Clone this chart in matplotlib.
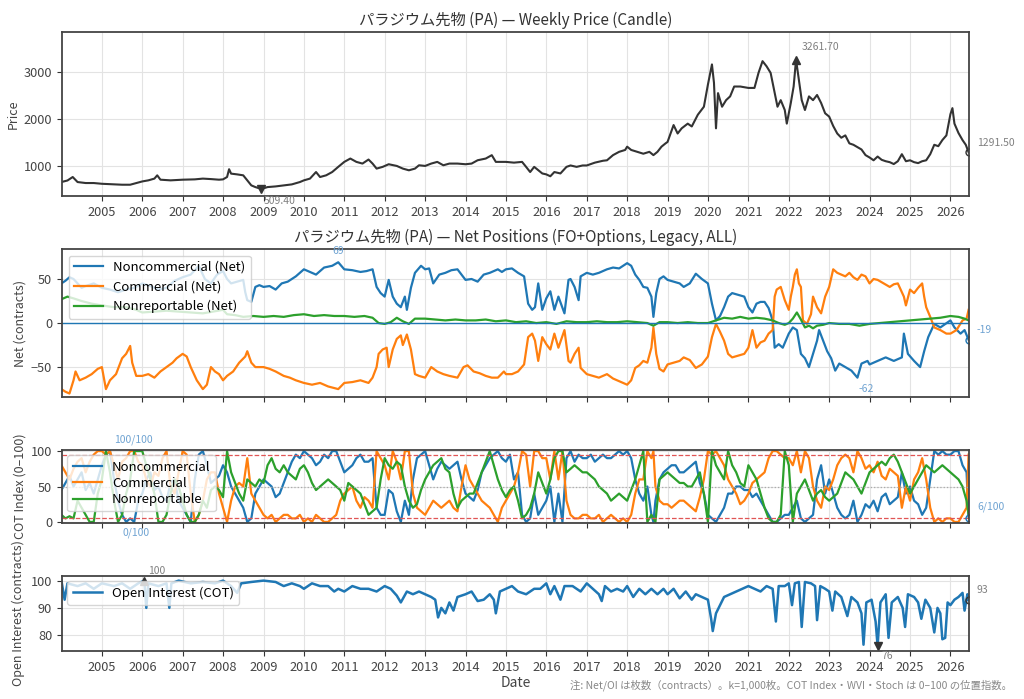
import matplotlib
matplotlib.use("Agg")
import matplotlib.pyplot as plt
import matplotlib.dates as mdates
import numpy as np
import pandas as pd

plt.rcParams['font.family'] = ['Noto Sans CJK JP', 'DejaVu Sans']

# ---------------- DATA (decimal year, value) ----------------
PRICE = [(2004.00,657),(2004.15,690),(2004.28,764),(2004.40,657),(2004.60,636),(2004.80,636),(2005.00,620),
 (2005.30,607),(2005.50,600),(2005.70,600),(2005.85,636),(2006.00,670),(2006.15,693),(2006.30,730),(2006.37,800),
 (2006.45,707),(2006.70,693),(2007.00,707),(2007.30,714),(2007.50,730),(2007.70,720),(2007.90,707),(2008.00,714),
 (2008.10,764),(2008.15,930),(2008.20,836),(2008.35,820),(2008.50,800),(2008.60,693),(2008.70,586),(2008.80,550),
 (2008.95,509.4),(2009.10,550),(2009.30,564),(2009.50,586),(2009.70,607),(2009.90,657),(2010.00,693),(2010.15,730),
 (2010.30,870),(2010.40,764),(2010.55,800),(2010.70,870),(2010.85,980),(2011.00,1086),(2011.15,1157),(2011.30,1086),
 (2011.45,1050),(2011.60,1136),(2011.70,1050),(2011.80,943),(2011.95,980),(2012.10,1036),(2012.30,1000),(2012.45,943),
 (2012.60,907),(2012.75,943),(2012.85,1014),(2013.00,1000),(2013.15,1050),(2013.30,1086),(2013.45,1014),(2013.60,1050),
 (2013.80,1050),(2014.00,1036),(2014.15,1050),(2014.30,1121),(2014.50,1157),(2014.65,1229),(2014.75,1086),(2014.90,1086),
 (2015.00,1086),(2015.20,1070),(2015.40,1086),(2015.50,980),(2015.60,870),(2015.70,980),(2015.80,910),(2015.90,840),
 (2016.00,820),(2016.10,780),(2016.20,870),(2016.35,840),(2016.50,980),(2016.60,1010),(2016.75,980),(2016.90,1010),
 (2017.00,1010),(2017.20,1070),(2017.40,1110),(2017.50,1120),(2017.65,1230),(2017.80,1300),(2017.95,1340),(2018.00,1410),
 (2018.10,1340),(2018.25,1300),(2018.40,1260),(2018.55,1300),(2018.65,1230),(2018.75,1300),(2018.85,1410),(2018.95,1480),
 (2019.00,1510),(2019.15,1870),(2019.25,1690),(2019.35,1800),(2019.50,1900),(2019.60,1840),(2019.75,2090),(2019.90,2260),
 (2020.00,2730),(2020.10,3160),(2020.15,2770),(2020.20,1800),(2020.25,2550),(2020.35,2260),(2020.45,2400),(2020.55,2480),
 (2020.65,2690),(2020.80,2690),(2021.00,2660),(2021.15,2660),(2021.25,2980),(2021.35,3230),(2021.45,3120),(2021.55,2980),
 (2021.65,2550),(2021.72,2260),(2021.80,2400),(2021.90,2190),(2021.95,1900),(2022.05,2340),(2022.12,2690),(2022.18,3261.7),
 (2022.25,2830),(2022.32,2400),(2022.40,2190),(2022.50,2480),(2022.60,2400),(2022.70,2510),(2022.80,2340),(2022.90,2120),
 (2023.00,2050),(2023.10,1850),(2023.20,1690),(2023.30,1600),(2023.40,1650),(2023.50,1480),(2023.60,1450),(2023.70,1400),
 (2023.80,1350),(2023.90,1230),(2024.00,1180),(2024.10,1120),(2024.20,1200),(2024.30,1130),(2024.40,1100),(2024.50,1080),
 (2024.60,1040),(2024.70,1100),(2024.80,1250),(2024.90,1100),(2025.00,1120),(2025.10,1080),(2025.20,1060),(2025.30,1100),
 (2025.40,1120),(2025.50,1250),(2025.60,1450),(2025.70,1420),(2025.80,1550),(2025.90,1650),(2026.00,2100),(2026.05,2230),
 (2026.10,1900),(2026.20,1700),(2026.30,1550),(2026.38,1450),(2026.45,1291.5)]

NET_NONCOMM = [(2004.0,45),(2004.1,48),(2004.2,52),(2004.3,50),(2004.4,45),(2004.5,40),(2004.6,42),(2004.8,45),(2005.0,40),
 (2005.2,38),(2005.4,35),(2005.6,38),(2005.8,40),(2006.0,45),(2006.2,42),(2006.4,38),(2006.6,40),(2006.8,48),(2007.0,52),
 (2007.2,55),(2007.4,65),(2007.55,50),(2007.7,45),(2007.85,55),(2008.0,59),(2008.1,50),(2008.2,45),(2008.35,47),(2008.5,49),
 (2008.55,35),(2008.6,26),(2008.7,24),(2008.8,41),(2008.9,43),(2009.0,41),(2009.15,42),(2009.3,38),(2009.45,45),(2009.6,47),
 (2009.8,53),(2010.0,61),(2010.15,58),(2010.3,55),(2010.5,63),(2010.7,65),(2010.85,69),(2011.0,61),(2011.2,60),(2011.4,58),
 (2011.55,59),(2011.7,61),(2011.8,41),(2011.9,34),(2012.0,30),(2012.1,49),(2012.2,30),(2012.3,22),(2012.4,18),(2012.5,30),
 (2012.55,15),(2012.65,40),(2012.75,57),(2012.9,65),(2013.0,61),(2013.1,62),(2013.2,45),(2013.35,55),(2013.5,57),(2013.65,60),
 (2013.8,61),(2013.9,55),(2014.0,49),(2014.15,50),(2014.3,47),(2014.45,55),(2014.6,57),(2014.8,61),(2014.9,58),(2015.0,61),
 (2015.15,62),(2015.3,57),(2015.45,53),(2015.55,22),(2015.65,15),(2015.72,18),(2015.8,45),(2015.9,15),(2016.0,28),(2016.1,36),
 (2016.2,15),(2016.3,30),(2016.45,11),(2016.55,49),(2016.6,50),(2016.7,41),(2016.8,26),(2016.85,53),(2017.0,57),(2017.15,55),
 (2017.3,57),(2017.5,61),(2017.65,63),(2017.8,62),(2017.9,65),(2018.0,68),(2018.1,65),(2018.2,55),(2018.3,49),(2018.4,41),
 (2018.5,40),(2018.6,30),(2018.65,7),(2018.72,34),(2018.8,50),(2018.9,53),(2019.0,49),(2019.15,47),(2019.3,45),(2019.4,41),
 (2019.55,45),(2019.7,56),(2019.85,50),(2020.0,45),(2020.1,22),(2020.2,3),(2020.3,8),(2020.4,18),(2020.5,30),(2020.6,34),
 (2020.75,32),(2020.9,30),(2021.0,18),(2021.1,12),(2021.2,22),(2021.3,24),(2021.4,24),(2021.5,17),(2021.6,3),(2021.65,-28),
 (2021.75,-24),(2021.85,-28),(2022.0,-12),(2022.1,-5),(2022.2,-8),(2022.3,-35),(2022.4,-40),(2022.5,-50),(2022.6,-35),
 (2022.7,-20),(2022.75,-8),(2022.85,-20),(2022.95,-32),(2023.05,-40),(2023.15,-54),(2023.25,-46),(2023.4,-50),(2023.55,-54),
 (2023.7,-62),(2023.8,-46),(2023.95,-43),(2024.0,-47),(2024.2,-43),(2024.4,-39),(2024.6,-43),(2024.8,-39),(2024.85,-12),
 (2024.95,-35),(2025.1,-43),(2025.25,-50),(2025.35,-32),(2025.45,-16),(2025.6,-1),(2025.75,-5),(2026.0,3),(2026.1,-5),
 (2026.25,-12),(2026.35,-8),(2026.45,-19)]

NET_COMM = [(2004.0,-75),(2004.1,-78),(2004.2,-80),(2004.3,-65),(2004.35,-55),(2004.45,-65),(2004.6,-62),(2004.75,-58),
 (2004.9,-52),(2005.0,-50),(2005.1,-75),(2005.2,-65),(2005.35,-58),(2005.5,-40),(2005.6,-35),(2005.7,-26),(2005.75,-45),
 (2005.85,-60),(2006.0,-60),(2006.15,-58),(2006.3,-62),(2006.45,-55),(2006.6,-50),(2006.75,-45),(2006.85,-40),(2007.0,-35),
 (2007.1,-38),(2007.2,-50),(2007.35,-65),(2007.5,-75),(2007.6,-70),(2007.7,-50),(2007.8,-55),(2007.9,-58),(2008.0,-65),
 (2008.1,-60),(2008.25,-55),(2008.4,-45),(2008.55,-38),(2008.6,-32),(2008.7,-45),(2008.8,-50),(2009.0,-50),(2009.15,-52),
 (2009.3,-55),(2009.5,-60),(2009.65,-62),(2009.8,-65),(2010.0,-68),(2010.2,-70),(2010.4,-68),(2010.6,-72),(2010.85,-75),
 (2011.0,-68),(2011.2,-67),(2011.4,-65),(2011.6,-68),(2011.7,-62),(2011.8,-50),(2011.85,-35),(2011.95,-30),(2012.05,-28),
 (2012.1,-50),(2012.2,-30),(2012.3,-18),(2012.4,-14),(2012.45,-25),(2012.55,-13),(2012.65,-30),(2012.75,-58),(2012.85,-60),
 (2013.0,-62),(2013.15,-50),(2013.3,-55),(2013.45,-58),(2013.6,-60),(2013.8,-62),(2013.95,-50),(2014.05,-48),(2014.2,-55),
 (2014.35,-57),(2014.5,-60),(2014.65,-62),(2014.8,-62),(2014.95,-55),(2015.0,-58),(2015.15,-58),(2015.3,-55),(2015.45,-47),
 (2015.55,-16),(2015.65,-12),(2015.72,-20),(2015.8,-43),(2015.9,-16),(2016.0,-24),(2016.1,-30),(2016.2,-12),(2016.3,-28),
 (2016.45,-8),(2016.55,-43),(2016.6,-45),(2016.7,-35),(2016.8,-28),(2016.85,-51),(2017.0,-58),(2017.15,-60),(2017.3,-62),
 (2017.5,-58),(2017.65,-63),(2017.8,-66),(2017.9,-68),(2018.0,-70),(2018.1,-65),(2018.2,-51),(2018.3,-48),(2018.4,-43),
 (2018.5,-45),(2018.6,-28),(2018.65,-5),(2018.72,-35),(2018.8,-52),(2018.9,-55),(2019.0,-47),(2019.15,-45),(2019.3,-43),
 (2019.4,-39),(2019.55,-42),(2019.7,-51),(2019.85,-47),(2020.0,-38),(2020.1,-16),(2020.2,-1),(2020.3,-10),(2020.4,-20),
 (2020.5,-35),(2020.6,-39),(2020.75,-37),(2020.9,-35),(2021.0,-28),(2021.1,-8),(2021.2,-28),(2021.3,-22),(2021.4,-20),
 (2021.5,-12),(2021.6,-8),(2021.65,30),(2021.7,38),(2021.8,41),(2021.9,26),(2022.0,15),(2022.05,30),(2022.1,41),(2022.15,55),
 (2022.2,61),(2022.25,45),(2022.3,41),(2022.35,3),(2022.45,-1),(2022.55,10),(2022.6,30),(2022.7,18),(2022.8,11),(2022.9,30),
 (2023.0,41),(2023.1,61),(2023.2,57),(2023.3,55),(2023.4,53),(2023.5,57),(2023.6,52),(2023.7,49),(2023.8,55),(2023.9,53),
 (2024.0,45),(2024.1,50),(2024.2,49),(2024.35,45),(2024.5,41),(2024.6,44),(2024.7,45),(2024.85,30),(2024.9,20),(2025.0,38),
 (2025.1,34),(2025.2,40),(2025.3,45),(2025.35,30),(2025.4,18),(2025.5,7),(2025.6,-5),(2025.75,-8),(2025.9,-12),(2026.0,-12),
 (2026.15,-8),(2026.3,3),(2026.4,5),(2026.45,15)]

NET_NONREP = [(2004.0,27),(2004.15,30),(2004.3,28),(2004.5,25),(2004.75,22),(2005.0,20),(2005.3,18),(2005.6,18),(2005.85,15),
 (2006.0,12),(2006.3,13),(2006.6,14),(2006.9,13),(2007.2,12),(2007.5,11),(2007.75,13),(2008.0,15),(2008.1,10),(2008.3,9),
 (2008.5,7),(2008.75,8),(2009.0,7),(2009.25,8),(2009.5,7),(2009.75,9),(2010.0,10),(2010.25,8),(2010.5,9),(2010.75,8),
 (2011.0,8),(2011.25,7),(2011.5,8),(2011.7,6),(2011.85,0),(2012.0,-1),(2012.15,1),(2012.3,6),(2012.45,2),(2012.6,-1),
 (2012.75,5),(2013.0,5),(2013.25,4),(2013.5,3),(2013.75,4),(2014.0,3),(2014.25,3),(2014.5,4),(2014.75,2),(2015.0,3),
 (2015.25,1),(2015.5,2),(2015.75,0),(2016.0,1),(2016.25,-1),(2016.5,2),(2016.75,1),(2017.0,1),(2017.25,2),(2017.5,1),
 (2017.75,1),(2018.0,2),(2018.25,1),(2018.5,0),(2018.65,-3),(2018.8,1),(2019.0,1),(2019.25,0),(2019.5,1),(2019.75,0),
 (2020.0,0),(2020.2,3),(2020.4,6),(2020.6,5),(2020.8,7),(2021.0,5),(2021.2,6),(2021.4,5),(2021.6,3),(2021.75,0),(2021.9,-2),
 (2022.0,0),(2022.1,5),(2022.2,12),(2022.3,4),(2022.4,-5),(2022.5,-3),(2022.6,-6),(2022.7,-3),(2022.85,-2),(2023.0,0),
 (2023.25,-1),(2023.5,-1),(2023.75,-3),(2024.0,-1),(2024.25,0),(2024.5,1),(2024.75,2),(2025.0,3),(2025.25,4),(2025.5,5),
 (2025.75,6),(2026.0,8),(2026.2,7),(2026.35,5),(2026.45,3)]

COT_NONCOMM = [(2004.0,45),(2004.1,55),(2004.2,65),(2004.3,50),(2004.4,60),(2004.5,70),(2004.6,45),(2004.7,55),(2004.8,40),
 (2004.9,60),(2005.0,80),(2005.1,95),(2005.2,100),(2005.3,60),(2005.4,30),(2005.5,10),(2005.6,0),(2005.7,5),(2005.8,0),
 (2005.9,30),(2006.0,40),(2006.1,60),(2006.2,70),(2006.3,45),(2006.4,50),(2006.5,35),(2006.6,30),(2006.7,55),(2006.8,60),
 (2006.9,30),(2007.0,20),(2007.1,10),(2007.2,0),(2007.3,60),(2007.4,95),(2007.5,100),(2007.6,80),(2007.7,55),(2007.8,60),
 (2007.9,65),(2008.0,80),(2008.1,70),(2008.2,50),(2008.3,40),(2008.4,30),(2008.5,20),(2008.6,0),(2008.7,5),(2008.8,40),
 (2008.9,50),(2009.0,60),(2009.1,55),(2009.2,50),(2009.3,35),(2009.4,40),(2009.5,55),(2009.6,70),(2009.7,85),(2009.8,95),
 (2009.9,90),(2010.0,100),(2010.1,95),(2010.2,90),(2010.3,80),(2010.4,85),(2010.5,95),(2010.6,90),(2010.7,100),(2010.8,100),
 (2010.9,85),(2011.0,70),(2011.1,75),(2011.2,80),(2011.3,90),(2011.4,95),(2011.5,85),(2011.6,85),(2011.7,90),(2011.8,20),
 (2011.9,10),(2012.0,10),(2012.1,45),(2012.2,40),(2012.3,15),(2012.4,0),(2012.5,30),(2012.6,10),(2012.7,60),(2012.8,90),
 (2012.9,95),(2013.0,100),(2013.1,80),(2013.2,60),(2013.3,75),(2013.4,85),(2013.5,80),(2013.6,75),(2013.7,80),(2013.8,85),
 (2013.9,60),(2014.0,40),(2014.1,35),(2014.2,30),(2014.3,45),(2014.4,70),(2014.5,80),(2014.6,90),(2014.7,95),(2014.8,100),
 (2014.9,90),(2015.0,85),(2015.1,95),(2015.2,60),(2015.3,70),(2015.4,10),(2015.5,0),(2015.6,5),(2015.7,40),(2015.8,10),
 (2015.9,20),(2016.0,30),(2016.1,50),(2016.2,0),(2016.3,40),(2016.4,0),(2016.5,90),(2016.6,100),(2016.7,85),(2016.8,95),
 (2016.9,90),(2017.0,90),(2017.1,95),(2017.2,85),(2017.3,90),(2017.4,95),(2017.5,90),(2017.6,90),(2017.7,95),(2017.8,100),
 (2017.9,95),(2018.0,100),(2018.1,90),(2018.2,60),(2018.3,40),(2018.4,30),(2018.5,50),(2018.6,10),(2018.65,0),(2018.7,30),
 (2018.8,60),(2018.9,70),(2019.0,75),(2019.1,80),(2019.2,80),(2019.3,70),(2019.4,70),(2019.5,75),(2019.6,80),(2019.7,85),
 (2019.8,55),(2019.9,40),(2020.0,10),(2020.1,5),(2020.2,0),(2020.3,10),(2020.4,20),(2020.5,40),(2020.6,40),(2020.7,50),
 (2020.8,50),(2020.9,45),(2021.0,45),(2021.1,35),(2021.2,40),(2021.3,30),(2021.4,20),(2021.5,10),(2021.6,0),(2021.7,0),
 (2021.8,5),(2021.9,10),(2022.0,10),(2022.1,20),(2022.2,30),(2022.3,5),(2022.4,0),(2022.5,5),(2022.6,10),(2022.7,60),
 (2022.8,80),(2022.9,40),(2023.0,60),(2023.1,40),(2023.2,20),(2023.3,10),(2023.4,5),(2023.5,10),(2023.6,30),(2023.7,0),
 (2023.8,10),(2023.9,25),(2024.0,20),(2024.1,30),(2024.2,15),(2024.3,35),(2024.4,40),(2024.5,25),(2024.6,30),(2024.7,35),
 (2024.8,70),(2024.9,40),(2025.0,50),(2025.1,30),(2025.2,25),(2025.3,10),(2025.4,20),(2025.5,60),(2025.6,100),(2025.7,95),
 (2025.8,100),(2025.9,95),(2026.0,95),(2026.1,100),(2026.2,100),(2026.3,80),(2026.4,70),(2026.45,6)]

COT_COMM = [(2004.0,80),(2004.1,70),(2004.2,60),(2004.3,75),(2004.4,85),(2004.5,90),(2004.6,70),(2004.7,85),(2004.8,95),
 (2004.9,100),(2005.0,100),(2005.1,95),(2005.2,100),(2005.3,80),(2005.4,60),(2005.5,85),(2005.6,90),(2005.7,100),(2005.8,100),
 (2005.9,85),(2006.0,80),(2006.1,60),(2006.2,50),(2006.3,70),(2006.4,65),(2006.5,90),(2006.6,100),(2006.7,50),(2006.8,40),
 (2006.9,70),(2007.0,100),(2007.1,95),(2007.2,40),(2007.3,0),(2007.4,10),(2007.5,30),(2007.6,60),(2007.7,70),(2007.8,70),
 (2007.9,40),(2008.0,20),(2008.1,0),(2008.2,30),(2008.3,50),(2008.4,55),(2008.5,50),(2008.6,90),(2008.7,40),(2008.8,30),
 (2008.9,20),(2009.0,10),(2009.1,5),(2009.2,10),(2009.3,0),(2009.4,5),(2009.5,10),(2009.6,10),(2009.7,5),(2009.8,5),
 (2009.9,10),(2010.0,0),(2010.1,5),(2010.2,0),(2010.3,10),(2010.4,5),(2010.5,0),(2010.6,0),(2010.7,5),(2010.8,10),
 (2010.9,30),(2011.0,40),(2011.1,45),(2011.2,50),(2011.3,30),(2011.4,20),(2011.5,35),(2011.6,30),(2011.7,20),(2011.8,100),
 (2011.9,90),(2012.0,80),(2012.1,60),(2012.2,100),(2012.3,85),(2012.4,60),(2012.5,100),(2012.6,100),(2012.7,40),(2012.8,20),
 (2012.9,15),(2013.0,10),(2013.1,20),(2013.2,30),(2013.3,25),(2013.4,20),(2013.5,25),(2013.6,30),(2013.7,20),(2013.8,15),
 (2013.9,50),(2014.0,80),(2014.1,60),(2014.2,50),(2014.3,40),(2014.4,30),(2014.5,25),(2014.6,20),(2014.7,10),(2014.8,0),
 (2014.9,20),(2015.0,30),(2015.1,40),(2015.2,50),(2015.3,70),(2015.4,100),(2015.5,95),(2015.6,50),(2015.7,100),(2015.8,100),
 (2015.9,90),(2016.0,90),(2016.1,60),(2016.2,100),(2016.3,60),(2016.4,100),(2016.5,30),(2016.6,10),(2016.7,5),(2016.8,5),
 (2016.9,10),(2017.0,10),(2017.1,5),(2017.2,5),(2017.3,10),(2017.4,0),(2017.5,5),(2017.6,10),(2017.7,5),(2017.8,0),
 (2017.9,5),(2018.0,0),(2018.1,10),(2018.2,40),(2018.3,60),(2018.4,60),(2018.5,100),(2018.6,90),(2018.65,100),(2018.7,50),
 (2018.8,30),(2018.9,25),(2019.0,25),(2019.1,20),(2019.2,25),(2019.3,30),(2019.4,30),(2019.5,25),(2019.6,20),(2019.7,15),
 (2019.8,35),(2019.9,60),(2020.0,100),(2020.1,95),(2020.2,100),(2020.3,90),(2020.4,80),(2020.5,60),(2020.6,50),(2020.7,40),
 (2020.8,25),(2020.9,30),(2021.0,40),(2021.1,55),(2021.2,60),(2021.3,65),(2021.4,70),(2021.5,90),(2021.6,100),(2021.7,100),
 (2021.8,95),(2021.9,90),(2022.0,90),(2022.1,80),(2022.2,100),(2022.3,70),(2022.4,100),(2022.5,90),(2022.6,50),(2022.7,30),
 (2022.8,20),(2022.9,50),(2023.0,45),(2023.1,60),(2023.2,80),(2023.3,90),(2023.4,95),(2023.5,90),(2023.6,70),(2023.7,100),
 (2023.8,90),(2023.9,75),(2024.0,80),(2024.1,70),(2024.2,85),(2024.3,65),(2024.4,60),(2024.5,75),(2024.6,70),(2024.7,65),
 (2024.8,20),(2024.9,50),(2025.0,30),(2025.1,60),(2025.2,70),(2025.3,90),(2025.4,60),(2025.5,20),(2025.6,0),(2025.7,5),
 (2025.8,0),(2025.9,5),(2026.0,5),(2026.1,0),(2026.2,0),(2026.3,10),(2026.4,20),(2026.45,95)]

COT_NONREP = [(2004.0,10),(2004.1,5),(2004.2,8),(2004.3,5),(2004.4,30),(2004.5,20),(2004.6,10),(2004.7,0),(2004.8,0),
 (2004.9,40),(2005.0,60),(2005.1,100),(2005.2,70),(2005.3,30),(2005.4,0),(2005.5,10),(2005.6,40),(2005.7,60),(2005.8,100),
 (2005.9,100),(2006.0,100),(2006.1,80),(2006.2,60),(2006.3,40),(2006.4,0),(2006.5,0),(2006.6,10),(2006.7,40),(2006.8,60),
 (2006.9,50),(2007.0,30),(2007.1,10),(2007.2,0),(2007.3,0),(2007.4,10),(2007.5,30),(2007.6,20),(2007.7,45),(2007.8,50),
 (2007.9,45),(2008.0,35),(2008.1,100),(2008.2,70),(2008.3,55),(2008.4,40),(2008.5,30),(2008.6,60),(2008.7,55),(2008.8,50),
 (2008.9,60),(2009.0,55),(2009.1,80),(2009.2,90),(2009.3,75),(2009.4,70),(2009.5,80),(2009.6,70),(2009.7,65),(2009.8,60),
 (2009.9,75),(2010.0,80),(2010.1,70),(2010.2,55),(2010.3,45),(2010.4,50),(2010.5,55),(2010.6,60),(2010.7,55),(2010.8,50),
 (2010.9,45),(2011.0,30),(2011.1,55),(2011.2,50),(2011.3,45),(2011.4,40),(2011.5,25),(2011.6,10),(2011.7,15),(2011.8,20),
 (2011.9,60),(2012.0,90),(2012.1,80),(2012.2,75),(2012.3,85),(2012.4,80),(2012.5,50),(2012.6,30),(2012.7,20),(2012.8,25),
 (2012.9,45),(2013.0,60),(2013.1,70),(2013.2,80),(2013.3,85),(2013.4,90),(2013.5,75),(2013.6,70),(2013.7,40),(2013.8,20),
 (2013.9,30),(2014.0,35),(2014.1,40),(2014.2,40),(2014.3,55),(2014.4,70),(2014.5,85),(2014.6,100),(2014.7,80),(2014.8,60),
 (2014.9,45),(2015.0,35),(2015.1,45),(2015.2,50),(2015.3,30),(2015.4,5),(2015.5,10),(2015.6,20),(2015.7,40),(2015.8,70),
 (2015.9,55),(2016.0,40),(2016.1,60),(2016.2,90),(2016.3,100),(2016.4,100),(2016.5,70),(2016.6,75),(2016.7,80),(2016.8,75),
 (2016.9,70),(2017.0,70),(2017.1,65),(2017.2,60),(2017.3,50),(2017.4,45),(2017.5,40),(2017.6,30),(2017.7,35),(2017.8,40),
 (2017.9,35),(2018.0,30),(2018.1,45),(2018.2,60),(2018.3,80),(2018.4,100),(2018.5,0),(2018.6,10),(2018.7,0),(2018.8,60),
 (2018.9,65),(2019.0,70),(2019.1,65),(2019.2,60),(2019.3,55),(2019.4,55),(2019.5,50),(2019.6,50),(2019.7,60),(2019.8,70),
 (2019.9,40),(2020.0,0),(2020.1,100),(2020.2,80),(2020.3,70),(2020.4,60),(2020.5,100),(2020.6,80),(2020.7,70),(2020.8,55),
 (2020.9,50),(2021.0,80),(2021.1,70),(2021.2,60),(2021.3,40),(2021.4,20),(2021.5,5),(2021.6,0),(2021.7,0),(2021.8,10),
 (2021.9,100),(2022.0,80),(2022.1,0),(2022.2,40),(2022.3,50),(2022.4,60),(2022.5,45),(2022.6,30),(2022.7,40),(2022.8,45),
 (2022.9,35),(2023.0,30),(2023.1,35),(2023.2,40),(2023.3,55),(2023.4,70),(2023.5,65),(2023.6,60),(2023.7,50),(2023.8,40),
 (2023.9,55),(2024.0,70),(2024.1,75),(2024.2,80),(2024.3,85),(2024.4,80),(2024.5,90),(2024.6,95),(2024.7,85),(2024.8,70),
 (2024.9,55),(2025.0,40),(2025.1,50),(2025.2,60),(2025.3,70),(2025.4,80),(2025.5,75),(2025.6,70),(2025.7,75),(2025.8,80),
 (2025.9,75),(2026.0,70),(2026.1,65),(2026.2,60),(2026.3,50),(2026.4,30),(2026.45,10)]

OPEN_INTEREST = [(2004.0,100),(2004.08,93),(2004.15,99),(2004.4,98),(2004.6,99),(2004.8,97),(2005.0,99),(2005.3,98),
 (2005.5,99),(2005.7,97),(2005.9,99),(2006.05,100),(2006.1,90),(2006.15,99),(2006.4,98),(2006.6,99),(2006.67,90),(2006.72,99),
 (2006.9,100),(2007.2,99),(2007.5,99.5),(2007.8,99),(2008.0,100),(2008.2,98),(2008.35,95.5),(2008.45,99),(2008.7,99.5),
 (2009.0,100),(2009.3,99.5),(2009.5,98),(2009.7,99),(2009.9,98),(2010.0,97),(2010.2,99),(2010.4,98),(2010.6,98),(2010.75,96),
 (2010.85,97),(2011.0,96),(2011.2,98),(2011.4,97),(2011.6,97),(2011.8,96),(2012.0,98),(2012.15,97),(2012.3,94.5),(2012.4,92),
 (2012.55,96),(2012.7,95),(2012.85,96),(2013.0,95),(2013.15,94),(2013.25,93),(2013.32,86.5),(2013.4,90),(2013.5,88),
 (2013.6,92),(2013.7,89),(2013.8,94),(2014.0,95),(2014.15,96),(2014.3,92.5),(2014.45,93),(2014.6,95),(2014.7,93),(2014.75,88),
 (2014.85,96),(2015.0,97),(2015.15,98),(2015.3,96),(2015.5,95),(2015.7,97),(2015.85,97),(2016.0,99),(2016.1,95),(2016.2,98),
 (2016.35,93),(2016.45,98),(2016.65,98),(2016.85,96),(2017.0,99),(2017.15,97),(2017.3,95),(2017.37,92.5),(2017.45,98),
 (2017.6,96),(2017.75,97),(2017.9,96),(2018.0,98),(2018.15,94),(2018.3,97),(2018.45,95),(2018.6,97),(2018.75,95),(2018.9,97),
 (2019.0,95),(2019.15,97),(2019.3,93.5),(2019.45,96),(2019.6,93),(2019.7,95),(2019.85,94),(2020.0,93),(2020.08,86),
 (2020.12,81.5),(2020.2,88),(2020.3,91),(2020.4,94),(2020.55,95),(2020.7,96),(2020.85,97),(2021.0,98),(2021.15,97),(2021.3,96),
 (2021.45,98),(2021.6,97),(2021.68,85),(2021.75,98),(2021.9,98),(2022.0,99),(2022.08,91),(2022.15,99),(2022.25,99.5),
 (2022.32,83),(2022.4,99.5),(2022.55,99),(2022.65,98),(2022.7,85.5),(2022.78,98),(2022.9,97),(2023.0,96),(2023.08,89),
 (2023.15,96),(2023.3,94),(2023.45,87),(2023.55,94),(2023.7,92),(2023.8,88),(2023.85,76.5),(2023.92,92),(2024.05,93),
 (2024.15,85),(2024.2,76),(2024.27,92),(2024.4,95),(2024.47,79),(2024.55,92),(2024.7,94),(2024.82,90),(2024.88,83),
 (2024.95,95),(2025.1,94),(2025.2,92),(2025.28,86),(2025.38,93),(2025.5,90),(2025.6,81),(2025.68,90),(2025.75,88),
 (2025.8,78.5),(2025.87,79),(2025.93,92),(2026.0,91),(2026.1,93),(2026.2,94),(2026.3,95.5),(2026.35,89),(2026.42,95),
 (2026.45,93)]

TITLE_PRICE = "パラジウム先物 (PA) — Weekly Price (Candle)"
TITLE_NET = "パラジウム先物 (PA) — Net Positions (FO+Options, Legacy, ALL)"
NOTE = "注: Net/OI は枚数（contracts）。k=1,000枚。COT Index・WVI・Stoch は 0–100 の位置指数。"
NET_LABELS = ["Noncommercial (Net)", "Commercial (Net)", "Nonreportable (Net)"]
COT_LABELS = ["Noncommercial", "Commercial", "Nonreportable"]
OI_LABEL = "Open Interest (COT)"
OI_MAX_MARK_YEAR = 2006.05


def to_dates(series):
    yrs = np.array([p[0] for p in series], dtype=float)
    vals = np.array([p[1] for p in series], dtype=float)
    base = pd.to_datetime([f"{int(y)}-01-01" for y in yrs])
    dates = base + pd.to_timedelta((yrs - np.floor(yrs)) * 365.25, unit="D")
    return yrs, dates, vals


C0, C1, C2 = "#1f77b4", "#ff7f0e", "#2ca02c"
LBLUE = "#6fa3d2"
GRAYTXT = "#808080"
DARK = "#333333"
LABFS = 9

fig = plt.figure(figsize=(10.24, 6.99), dpi=100)
L, W = 0.0605, 0.886
ax1 = fig.add_axes([L, 0.7196, W, 0.2346])
ax2 = fig.add_axes([L, 0.432, W, 0.2117], sharex=ax1)
ax3 = fig.add_axes([L, 0.2518, W, 0.1044], sharex=ax1)
ax4 = fig.add_axes([L, 0.0687, W, 0.1073], sharex=ax1)

for ax in (ax1, ax2, ax3, ax4):
    ax.grid(True, color="#e3e3e3", lw=0.8)
    ax.set_axisbelow(True)
    for s in ax.spines.values():
        s.set_color("#444444")
        s.set_linewidth(1.3)
    ax.tick_params(labelsize=9.2, colors="#333333", labelcolor="#444444", length=3.5)

# ---- Price ----
_, pd_, pv = to_dates(PRICE)
ax1.plot(pd_, pv, color=DARK, lw=1.5)
ax1.set_ylim(360, 3850)
ax1.set_ylabel("Price", fontsize=LABFS, color="#444", labelpad=3)
ax1.set_title(TITLE_PRICE, fontsize=11, color="#333", pad=5)
imax, imin = int(np.argmax(pv)), int(np.argmin(pv))
ax1.plot(pd_[imax], pv[imax], marker="^", color=DARK, ms=6)
ax1.plot(pd_[imin], pv[imin], marker="v", color=DARK, ms=6)
ax1.annotate(f"{pv[imax]:.2f}", (pd_[imax], pv[imax]), xytext=(4, 9), textcoords="offset points",
             fontsize=7.5, color=GRAYTXT, va="center")
ax1.annotate(f"{pv[imin]:.2f}", (pd_[imin], pv[imin]), xytext=(2, -9), textcoords="offset points",
             fontsize=7.5, color=GRAYTXT, va="center", annotation_clip=False)
ax1.plot(pd_[-1], pv[-1], marker="o", ms=5, mfc="none", mec=DARK)
ax1.annotate(f"{pv[-1]:.2f}", (pd_[-1], pv[-1]), xytext=(6, 7), textcoords="offset points",
             fontsize=7.5, color=GRAYTXT, va="center", annotation_clip=False)

# ---- Net positions ----
_, nd, nv = to_dates(NET_NONCOMM)
_, cd, cv = to_dates(NET_COMM)
_, rd, rv = to_dates(NET_NONREP)
ax2.plot(nd, nv, color=C0, lw=1.6, label=NET_LABELS[0])
ax2.plot(cd, cv, color=C1, lw=1.6, label=NET_LABELS[1])
ax2.plot(rd, rv, color=C2, lw=1.6, label=NET_LABELS[2])
ax2.axhline(0, color=C0, lw=1.0)
ax2.set_ylim(-84, 84)
ax2.set_yticks([-50, 0, 50])
ax2.set_ylabel("Net (contracts)", fontsize=LABFS, color="#444", labelpad=3)
ax2.set_title(TITLE_NET, fontsize=11, color="#333", pad=5)
ax2.legend(loc="upper left", fontsize=9.5, framealpha=0.8, handlelength=2.2, borderaxespad=0.5)
jmax, jmin = int(np.argmax(nv)), int(np.argmin(nv))
ax2.annotate(f"{nv[jmax]:.0f}", (nd[jmax], nv[jmax]), xytext=(0, 8), textcoords="offset points",
             fontsize=7.5, color=LBLUE, ha="center", va="center", annotation_clip=False)
ax2.annotate(f"{nv[jmin]:.0f}", (nd[jmin], nv[jmin]), xytext=(6, -8), textcoords="offset points",
             fontsize=7.5, color=LBLUE, ha="center", va="center")
ax2.plot(nd[-1], nv[-1], marker="o", ms=5, mfc="none", mec=C0)
ax2.annotate(f"{nv[-1]:.0f}", (nd[-1], nv[-1]), xytext=(6, 7), textcoords="offset points",
             fontsize=7.5, color=LBLUE, va="center", annotation_clip=False)
plt.setp(ax2.get_xticklabels(), visible=False)

# ---- COT Index ----
_, ad, av = to_dates(COT_NONCOMM)
_, bd, bv = to_dates(COT_COMM)
_, gd, gv = to_dates(COT_NONREP)
ax3.plot(ad, av, color=C0, lw=1.6, label=COT_LABELS[0])
ax3.plot(bd, bv, color=C1, lw=1.6, label=COT_LABELS[1])
ax3.plot(gd, gv, color=C2, lw=1.6, label=COT_LABELS[2])
ax3.axhline(95, color="#e05555", lw=0.9, ls="--")
ax3.axhline(5, color="#e05555", lw=0.9, ls="--")
ax3.axhline(50, color="#aaaaaa", lw=0.9, ls=":")
ax3.set_ylim(-1.5, 101.5)
ax3.set_yticks([0, 50, 100])
ax3.set_ylabel("COT Index (0–100)", fontsize=LABFS, color="#444", labelpad=3)
ax3.legend(loc="upper left", fontsize=9.5, framealpha=0.8, handlelength=2.2, borderaxespad=0.4,
           labelspacing=0.25)
kmax, kmin = int(np.argmax(av)), int(np.argmin(av))
ax3.annotate(f"{av[kmax]:.0f}/100", (ad[kmax], av[kmax]), xytext=(17, 8), textcoords="offset points",
             fontsize=7.5, color=LBLUE, ha="center", va="center", annotation_clip=False)
ax3.annotate(f"{av[kmin]:.0f}/100", (ad[kmin], av[kmin]), xytext=(7, -8), textcoords="offset points",
             fontsize=7.5, color=LBLUE, ha="center", va="center", annotation_clip=False)
ax3.plot(ad[-1], av[-1], marker="o", ms=5, mfc="none", mec=C0)
ax3.annotate(f"{av[-1]:.0f}/100", (ad[-1], av[-1]), xytext=(6, 8), textcoords="offset points",
             fontsize=7.5, color=LBLUE, va="center", annotation_clip=False)
plt.setp(ax3.get_xticklabels(), visible=False)

# ---- Open interest ----
oy, od, ov = to_dates(OPEN_INTEREST)
ax4.plot(od, ov, color=C0, lw=1.8, label=OI_LABEL)
ax4.set_ylim(74.2, 101.7)
ax4.set_yticks([80, 90, 100])
ax4.set_ylabel("Open Interest (contracts)", fontsize=LABFS, color="#444", labelpad=4)
ax4.set_xlabel("Date", fontsize=10, color="#444", labelpad=2)
ax4.legend(loc="upper left", fontsize=9.5, framealpha=0.8, handlelength=2.2, borderaxespad=0.4)
mmin = int(np.argmin(ov))
mmax = int(np.argmin(np.abs(oy - OI_MAX_MARK_YEAR)))
ax4.plot(od[mmax], ov[mmax], marker="^", color=DARK, ms=6)
ax4.annotate(f"{ov[mmax]:.0f}", (od[mmax], ov[mmax]), xytext=(3, 7), textcoords="offset points",
             fontsize=7.5, color=GRAYTXT, va="center", annotation_clip=False)
ax4.plot(od[mmin], ov[mmin], marker="v", color=DARK, ms=6)
ax4.annotate(f"{ov[mmin]:.0f}", (od[mmin], ov[mmin]), xytext=(3, -7), textcoords="offset points",
             fontsize=7.5, color=GRAYTXT, va="center", annotation_clip=False)
ax4.plot(od[-1], ov[-1], marker="o", ms=5, mfc="none", mec=DARK)
ax4.annotate(f"{ov[-1]:.0f}", (od[-1], ov[-1]), xytext=(6, 7), textcoords="offset points",
             fontsize=7.5, color=GRAYTXT, va="center", annotation_clip=False)

ax1.xaxis.set_major_locator(mdates.YearLocator())
ax1.xaxis.set_major_formatter(mdates.DateFormatter("%Y"))
ax1.set_xlim(pd.Timestamp("2004-01-06"), pd.Timestamp("2026-06-20"))
ax1.tick_params(labelbottom=True)

fig.text(0.988, 0.012, NOTE, ha="right", va="bottom", fontsize=7.5, color="#888888")

fig.savefig("out.png", dpi=100)
